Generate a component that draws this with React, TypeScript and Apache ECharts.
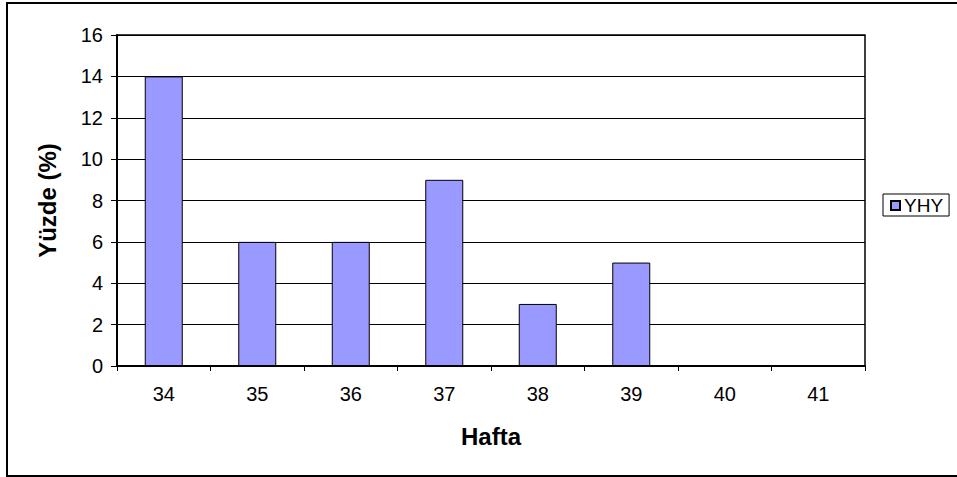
import React, { useEffect, useRef } from "react";
import * as echarts from "echarts";

const weeks = ["34", "35", "36", "37", "38", "39", "40", "41"];
const yhyValues = [14, 6, 6, 9, 3, 5, 0, 0];
const seriesName = "YHY";
const yTitle = "Yüzde (%)";
const xTitle = "Hafta";

const FONT = "'Liberation Sans', Arial, sans-serif";

export default function App() {
  const ref = useRef<HTMLDivElement>(null);

  useEffect(() => {
    if (!ref.current) return;
    const chart = echarts.init(ref.current, undefined, { renderer: "svg" });
    // Zero-height bars leave no outline behind
    const barData = yhyValues.map((v) => ({
      value: v,
      itemStyle: v === 0 ? { borderWidth: 0 } : undefined,
    }));
    chart.setOption({
      animation: false,
      backgroundColor: "#ffffff",
      textStyle: { fontFamily: FONT },
      grid: {
        left: 117,
        top: 35,
        right: 957 - 865,
        bottom: 477 - 366,
        containLabel: false,
        show: true,
        borderColor: "#000",
        borderWidth: 1.5,
        backgroundColor: "transparent",
      },
      graphic: [
        {
          type: "rect",
          shape: { x: 7, y: 3, width: 970, height: 473 },
          style: { fill: "none", stroke: "#000", lineWidth: 2 },
          silent: true,
        },
      ],
      legend: {
        data: [seriesName],
        left: 883,
        top: 194,
        orient: "vertical",
        icon: "rect",
        itemWidth: 9,
        itemHeight: 9,
        itemGap: 4,
        padding: [2, 6, 1, 7],
        borderColor: "#000",
        borderWidth: 1,
        backgroundColor: "#fff",
        textStyle: { fontFamily: FONT, fontSize: 19, color: "#000", padding: [0, 0, 0, -1] },
      },
      xAxis: {
        type: "category",
        data: weeks,
        name: xTitle,
        nameLocation: "middle",
        nameGap: 58,
        nameTextStyle: { fontFamily: FONT, fontSize: 24, fontWeight: "bold", color: "#000" },
        axisLine: { lineStyle: { color: "#000", width: 2 } },
        axisTick: { show: true, length: 5, alignWithLabel: false, lineStyle: { color: "#000" } },
        axisLabel: { fontFamily: FONT, fontSize: 20, color: "#000", margin: 18 },
      },
      yAxis: {
        type: "value",
        min: 0,
        max: 16,
        interval: 2,
        name: yTitle,
        nameLocation: "middle",
        nameGap: 58,
        nameRotate: 90,
        nameTextStyle: { fontFamily: FONT, fontSize: 24, fontWeight: "bold", color: "#000" },
        axisLine: { show: true, lineStyle: { color: "#000", width: 2 } },
        axisTick: { show: true, length: 6, lineStyle: { color: "#000" } },
        axisLabel: { fontFamily: FONT, fontSize: 20, color: "#000", margin: 14 },
        splitLine: { show: true, lineStyle: { color: "#000", width: 1 } },
      },
      series: [
        {
          name: seriesName,
          type: "bar",
          data: barData,
          barWidth: 38,
          itemStyle: { color: "#9999FF", borderColor: "#000", borderWidth: 1 },
        },
      ],
    });
    return () => chart.dispose();
  }, []);

  return (
    <div
      ref={ref}
      style={{ position: "fixed", left: 0, top: 0, width: 957, height: 477 }}
    />
  );
}
